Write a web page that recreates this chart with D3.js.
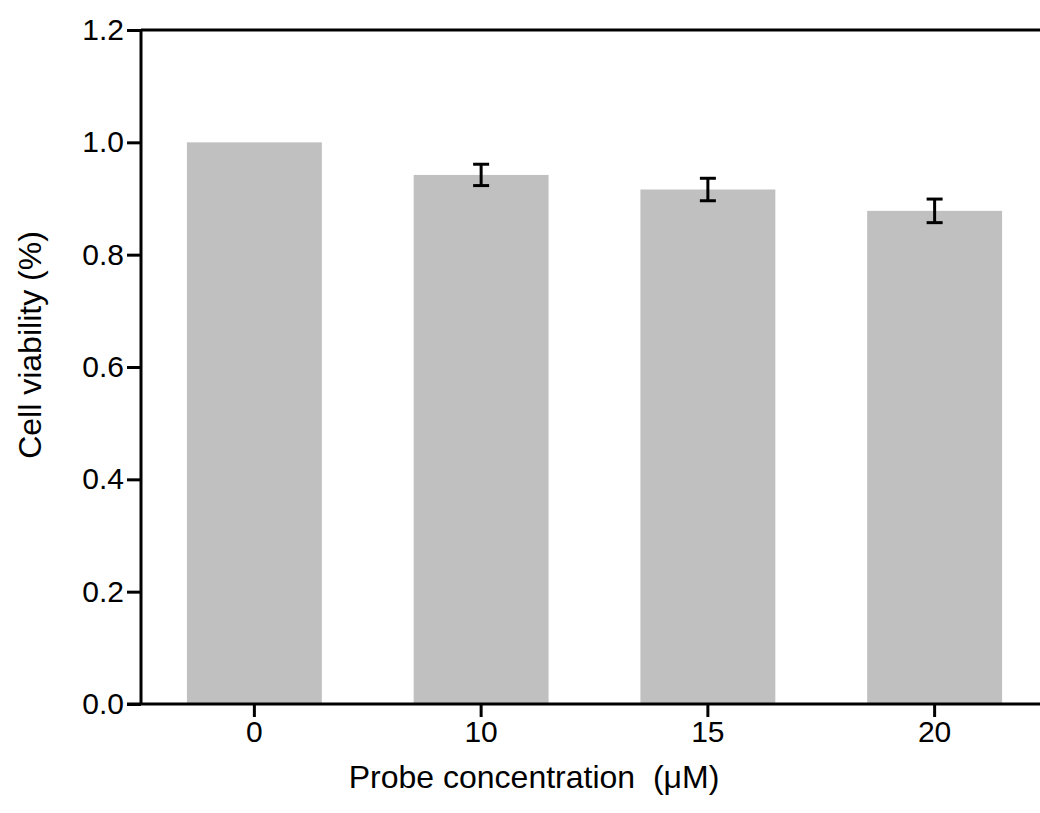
<!DOCTYPE html>
<head>
  <meta charset="UTF-8">
  <title>cell viability</title>
  <style>
  body, html, svg{
    padding: 0;
    margin: 0;
  }
  body{
    background: #fff;
  }
  svg{
    display: block;
    font-family: "Liberation Sans", Arial, sans-serif;
  }
  </style>
</head>
<body>
  <script src="https://cdn.jsdelivr.net/npm/d3@7"></script>
  <script type="text/javascript">
  // data
  var concentrations = ['0', '10', '15', '20'];
  var viability = [1.0, 0.942, 0.916, 0.878];
  var errors = [0, 0.019, 0.02, 0.021];
  var yTicks = [0, 0.2, 0.4, 0.6, 0.8, 1.0, 1.2];

  var width = 1040, height = 813;
  var plotLeft = 141, plotTop = 30, plotBottom = 704;

  var svg = d3.select('body').append('svg')
    .attr('width', width)
    .attr('height', height);

  var x = d3.scaleBand()
    .domain(concentrations)
    .range([plotLeft, 1048])
    .paddingInner(0.405)
    .paddingOuter(0.2025);

  var y = d3.scaleLinear()
    .domain([0, 1.2])
    .range([plotBottom, plotTop]);

  // bars
  svg.selectAll('rect.bar')
    .data(concentrations)
    .enter()
    .append('rect')
    .attr('class', 'bar')
    .attr('x', function(d) { return x(d); })
    .attr('width', x.bandwidth())
    .attr('y', function(d, i) { return y(viability[i]); })
    .attr('height', function(d, i) { return plotBottom - y(viability[i]); })
    .attr('fill', '#c0c0c0');

  // error bars
  function idx(d) { return concentrations.indexOf(d); }
  function cx(d) { return x(d) + x.bandwidth() / 2; }
  function hi(d) { return y(viability[idx(d)] + errors[idx(d)]); }
  function lo(d) { return y(viability[idx(d)] - errors[idx(d)]); }

  var eb = svg.selectAll('g.err')
    .data(concentrations.filter(function(d, i) { return errors[i] > 0; }))
    .enter()
    .append('g')
    .attr('class', 'err')
    .attr('stroke', '#000')
    .attr('stroke-width', 3);

  eb.append('line')
    .attr('x1', cx).attr('x2', cx)
    .attr('y1', hi).attr('y2', lo);
  eb.append('line')
    .attr('x1', function(d) { return cx(d) - 8; })
    .attr('x2', function(d) { return cx(d) + 8; })
    .attr('y1', hi).attr('y2', hi);
  eb.append('line')
    .attr('x1', function(d) { return cx(d) - 8; })
    .attr('x2', function(d) { return cx(d) + 8; })
    .attr('y1', lo).attr('y2', lo);

  // top frame line
  svg.append('line')
    .attr('x1', plotLeft).attr('x2', width)
    .attr('y1', plotTop).attr('y2', plotTop)
    .attr('stroke', '#000')
    .attr('stroke-width', 3);

  // y axis
  var yAxis = svg.append('g')
    .attr('transform', 'translate(' + plotLeft + ',0)')
    .call(d3.axisLeft(y).tickValues(yTicks).tickFormat(d3.format('.1f'))
      .tickSize(14).tickSizeOuter(0).tickPadding(3));

  // x axis
  var xAxis = svg.append('g')
    .attr('transform', 'translate(0,' + plotBottom + ')')
    .call(d3.axisBottom(x).tickSize(13).tickSizeOuter(0).tickPadding(4));

  [yAxis, xAxis].forEach(function(g) {
    g.selectAll('path, line').attr('stroke', '#000').attr('stroke-width', 3);
    g.selectAll('text')
      .attr('fill', '#000')
      .style('font-size', '30px')
      .style('font-family', '"Liberation Sans", Arial, sans-serif');
  });
  // x axis line also runs left past the y axis
  xAxis.select('.domain').attr('d', 'M127,0H1048');
  yAxis.select('.domain').attr('d', 'M0,' + plotTop + 'V' + plotBottom);

  // axis titles
  svg.append('text')
    .attr('x', 534)
    .attr('y', 788)
    .attr('text-anchor', 'middle')
    .attr('xml:space', 'preserve')
    .style('font-size', '32px')
    .text('Probe concentration  (\u03bcM)');

  svg.append('text')
    .attr('transform', 'translate(41,345) rotate(-90)')
    .attr('text-anchor', 'middle')
    .style('font-size', '32px')
    .text('Cell viability (%)');
  </script>
</body>
</html>
